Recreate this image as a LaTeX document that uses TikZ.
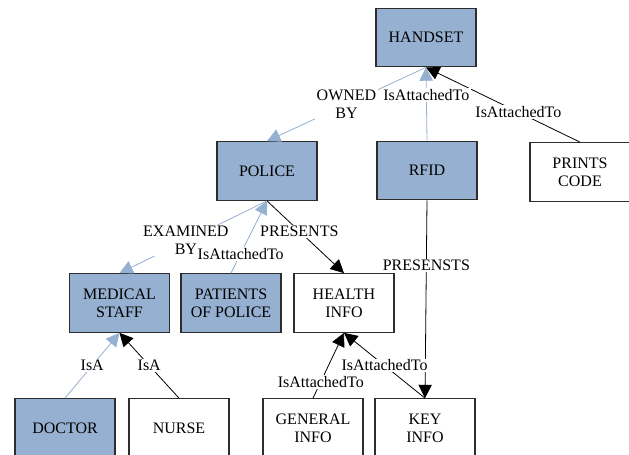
\documentclass[tikz,border=0pt]{standalone}
\usepackage{fontspec}
\setmainfont{Liberation Serif}
\usetikzlibrary{arrows.meta}
\definecolor{entblue}{RGB}{149,176,208}
\definecolor{boxline}{RGB}{45,45,45}
\tikzset{
  ent/.style={draw=boxline, line width=0.8pt, minimum width=75pt, minimum height=44pt,
    inner sep=1pt, align=center, font=\fontsize{12}{13.5}\selectfont},
  entfill/.style={ent, fill=entblue},
  entplain/.style={ent, fill=white},
  reltip/.style={-{Triangle[length=10pt,width=10pt]}},
  blackrel/.style={reltip, draw=black, line width=0.6pt},
  bluerel/.style={reltip, draw=entblue, line width=0.6pt},
  rlabel/.style={fill=white, inner sep=1pt, align=center,
    font=\fontsize{12}{13.5}\selectfont}
}
\begin{document}
\begin{tikzpicture}[x=0.75pt, y=-0.75pt]
\useasboundingbox (0,0) rectangle (629,454);

% entities
\node[entfill]  (handset)  at (426,37.5) {HANDSET};
\node[entfill]  (police)   at (267,171)  {POLICE};
\node[entfill]  (rfid)     at (427,170.5){RFID};
\node[entplain] (prints)   at (580,172)  {PRINTS\\CODE};
\node[entfill]  (medical)  at (119.5,303){MEDICAL\\STAFF};
\node[entfill]  (patients) at (231,303)  {PATIENTS\\OF POLICE};
\node[entplain] (health)   at (344,303)  {HEALTH\\INFO};
\node[entfill]  (doctor)   at (65,428)   {DOCTOR};
\node[entplain] (nurse)    at (179,428)  {NURSE};
\node[entplain] (general)  at (313,428)  {GENERAL\\INFO};
\node[entplain] (keyinfo)  at (425,428)  {KEY\\INFO};

% relationships
\draw[bluerel]  (rfid.north)     -- (handset.south);
\draw[blackrel] (prints.north)   -- (handset.south);
\draw[bluerel]  (handset.south)  -- (police.north);
\draw[blackrel] (police.south)   -- (health.north);
\draw[bluerel]  (police.south)   -- (medical.north);
\draw[bluerel]  (patients.north) -- (police.south);
\draw[bluerel]  (doctor.north)   -- (medical.south);
\draw[blackrel] (nurse.north)    -- (medical.south);
\draw[blackrel] (general.north)  -- (health.south);
\draw[blackrel] (keyinfo.north)  -- (health.south);
\draw[blackrel] (rfid.south)     -- (keyinfo.north);

% relationship names
\path (rfid.north)     -- (handset.south) node[rlabel, pos=0.62] {IsAttachedTo};
\path (prints.north)   -- (handset.south) node[rlabel, pos=0.4]  {IsAttachedTo};
\path (handset.south)  -- (police.north)  node[rlabel, pos=0.5]  {OWNED\\BY};
\path (police.south)   -- (health.north)  node[rlabel, pos=0.42] {PRESENTS};
\path (police.south)   -- (medical.north) node[rlabel, pos=0.55] {EXAMINED\\BY};
\path (patients.north) -- (police.south)  node[rlabel, pos=0.27] {IsAttachedTo};
\path (doctor.north)   -- (medical.south) node[rlabel, pos=0.5]  {IsA};
\path (nurse.north)    -- (medical.south) node[rlabel, pos=0.5]  {IsA};
\path (general.north)  -- (health.south)  node[rlabel, pos=0.25] {IsAttachedTo};
\path (keyinfo.north)  -- (health.south)  node[rlabel, pos=0.5]  {IsAttachedTo};
\path (rfid.south)     -- (keyinfo.north) node[rlabel, pos=0.33] {PRESENSTS};
\end{tikzpicture}
\end{document}
